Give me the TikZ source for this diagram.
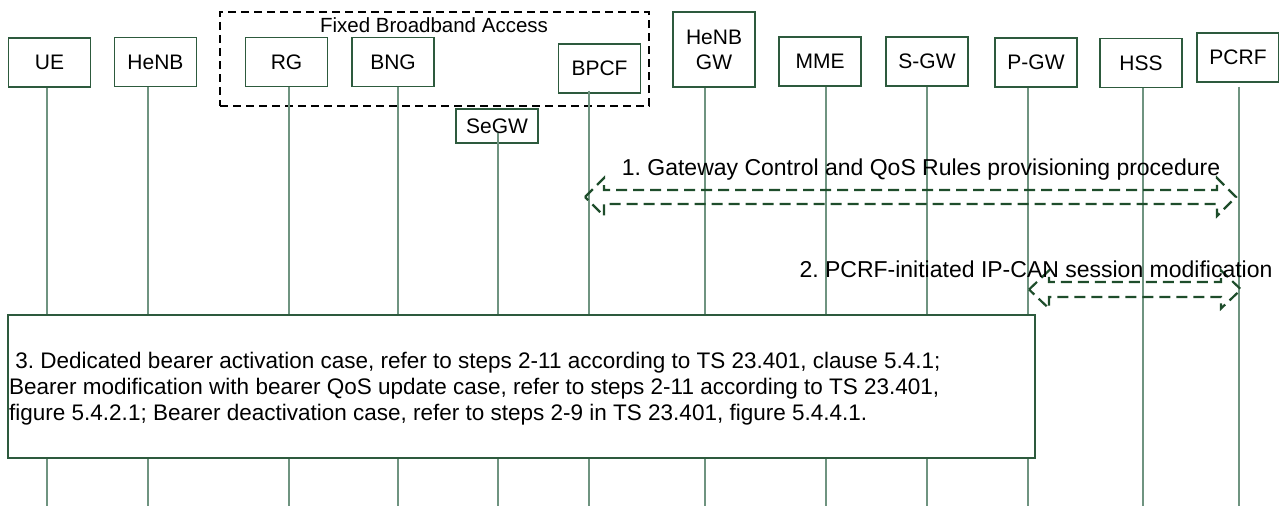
\documentclass[tikz,border=0pt]{standalone}
\usepackage{fontspec}
\setmainfont{Liberation Sans}
\usetikzlibrary{calc}
\definecolor{boxgreen}{HTML}{2D5A3D}
\definecolor{lifegreen}{HTML}{6F9480}
\definecolor{arrowgreen}{HTML}{1E4D2B}
\frenchspacing
\begin{document}
\begin{tikzpicture}[x=1pt,y=-1pt,
  ent/.style={draw=boxgreen,line width=1.1pt,fill=white,minimum width=82pt,minimum height=49pt,inner sep=0pt,font=\fontsize{21}{25}\selectfont,align=center},
  life/.style={draw=lifegreen,line width=1.2pt},
  hollow/.style={draw=arrowgreen,line width=2.2pt,dash pattern=on 11pt off 6pt},
  lbl/.style={font=\fontsize{23}{27}\selectfont,inner sep=0pt,anchor=base},
  bodytext/.style={font=\fontsize{22.5}{26}\selectfont,inner sep=0pt,anchor=base west},
  fbabox/.style={draw=black,line width=1.8pt,dash pattern=on 8pt off 5pt,minimum width=429pt,minimum height=94pt,inner sep=0pt}]
\useasboundingbox (0,0) rectangle (1279,506);
\coordinate (bot) at (0,506);
% Fixed broadband access group
\node[fbabox] (fba) at (434.5,59) {};
\node[inner sep=0pt,anchor=base,font=\fontsize{20.5}{24}\selectfont] (fbalabel) at (434,32) {Fixed Broadband Access};
% entities
\node[ent] (ue) at (49.5,62.5) {UE};
\node[ent] (henb) at (155.5,62) {HeNB};
\node[ent] (rg) at (286.5,62) {RG};
\node[ent] (bng) at (393,62) {BNG};
\node[ent] (bpcf) at (599.5,68.5) {BPCF};
\node[ent,minimum height=34pt] (segw) at (497,126) {SeGW};
\node[ent,minimum height=75pt] (henbgw) at (714,49.5) {HeNB\\GW};
\node[ent] (mme) at (820,61.5) {MME};
\node[ent] (sgw) at (927,61.5) {S-GW};
\node[ent] (pgw) at (1036,62.5) {P-GW};
\node[ent] (hss) at (1141,63) {HSS};
\node[ent] (pcrf) at (1238,57.5) {PCRF};
% lifelines
\foreach \n/\dx/\dy in {ue/-2.5/0, henb/-7.5/0, rg/2.5/0, bng/5/0, bpcf/-10.5/-3, segw/1/-11, henbgw/-9/0, mme/6/0, sgw/0/0, pgw/-8/0, hss/2/0, pcrf/1/4}
  \draw[life] ($(\n.south)+(\dx,\dy)$) -- ($(\n.south |- bot)+(\dx,0)$);
% step 3 box
\node[draw=boxgreen,line width=1.1pt,fill=white,minimum width=1027pt,minimum height=143pt,inner sep=0pt] (box3) at (521.5,386.5) {};
\node[bodytext] (t3a) at (9,368) {\ 3. Dedicated bearer activation case, refer to steps 2-11 according to TS 23.401, clause 5.4.1;};
\node[bodytext] (t3b) at (9,394) {Bearer modification with bearer QoS update case, refer to steps 2-11 according to TS 23.401,};
\node[bodytext] (t3c) at (9,420) {figure 5.4.2.1; Bearer deactivation case, refer to steps 2-9 in TS 23.401, figure 5.4.4.1.};
% arrow 1
\coordinate (a1L) at (585,197);
\coordinate (a1R) at (1236,197);
\draw[hollow] (a1L) -- ++(19,-19) -- ++(0,12) -- ($(a1R)+(-19,-7)$) -- ++(0,-12) -- (a1R) -- ++(-19,19) -- ++(0,-12) -- ($(a1L)+(19,7)$) -- ++(0,12) -- cycle;
\node[lbl] (l1) at (921,175) {1. Gateway Control and QoS Rules provisioning procedure};
% arrow 2
\coordinate (a2L) at (1029,289.5);
\coordinate (a2R) at (1241,289.5);
\draw[hollow] (a2L) -- ++(20,-19) -- ++(0,11.5) -- ($(a2R)+(-20,-7.5)$) -- ++(0,-11.5) -- (a2R) -- ++(-20,19) -- ++(0,-11.5) -- ($(a2L)+(20,7.5)$) -- ++(0,11.5) -- cycle;
\node[lbl] (l2) at (1036,277) {2. PCRF-initiated IP-CAN session modification};
\end{tikzpicture}
\end{document}
